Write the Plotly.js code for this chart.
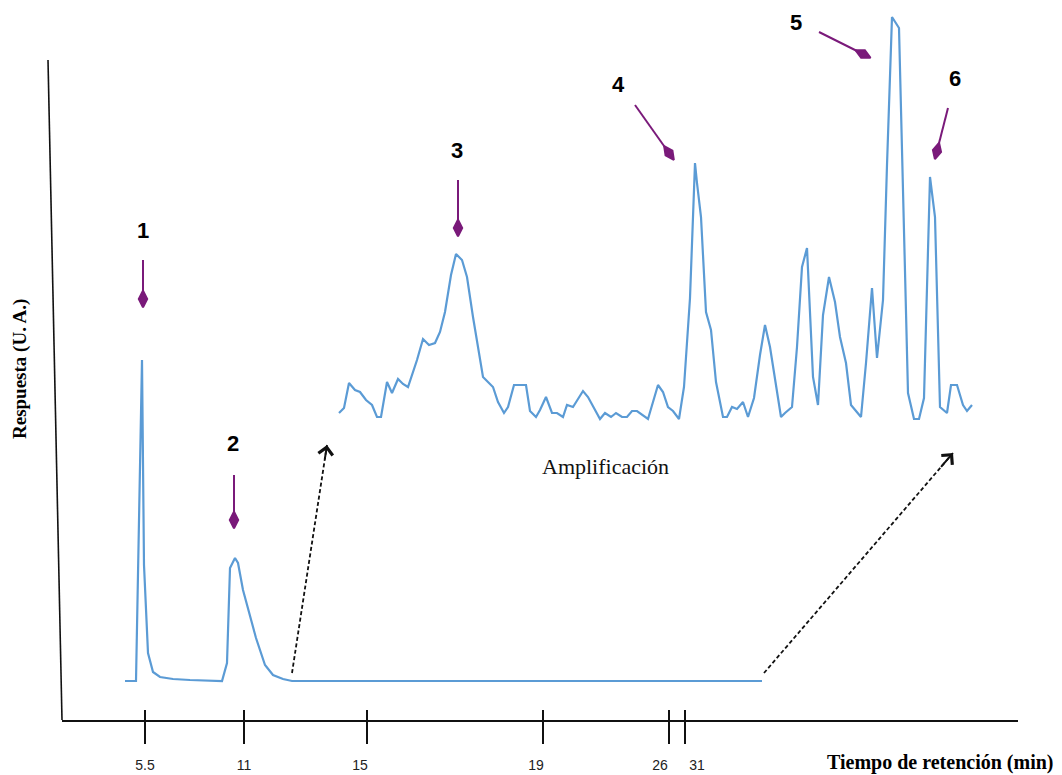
<!DOCTYPE html>
<html>
<head>
<meta charset="utf-8">
<script src="https://cdn.plot.ly/plotly-3.0.1.min.js"></script>
<style>html,body{margin:0;padding:0;background:#fff;}#chart{width:1062px;height:775px;}</style>
</head>
<body>
<div id="chart"></div>
<script>
// ---- Data (x: position along drawn time axis, y: response, arbitrary units) ----
const mainX = [125,136,142,144,148,153,160,173,190,222,227,230,235,238,243,250,256,265,273,283,292,762];
const mainY = [39,39,360,155,67,48,43,41,40,39,57,152,162,157,130,105,82,55,45,41,39,39];

const ampX = [339,344,349,355,360,366,372,377,381,387,392,398,403,408,417,423,429,435,440,445,451,456,462,467,473,483,493,498,504,508,514,526,530,536,540,546,552,557,563,567,573,583,588,600,605,611,616,622,627,632,637,643,648,658,663,668,673,679,684,690,695,697,701,706,711,716,723,727,732,737,743,748,754,760,765,770,775,781,785,792,797,802,807,813,818,823,829,835,840,846,851,857,861,866,872,877,883,887,892,899,902,908,914,919,924,930,935,940,947,951,957,963,967,972];
const ampY = [307,312,337,330,328,320,315,303,303,338,327,341,336,333,360,381,375,377,388,408,445,466,460,443,403,343,333,318,307,313,335,335,309,303,310,323,307,307,303,315,313,329,323,301,307,303,307,303,303,309,309,305,301,335,328,313,309,301,333,422,557,537,503,408,390,338,303,303,313,311,318,303,322,365,395,373,343,303,307,313,373,453,472,343,315,405,443,418,383,357,315,308,303,357,432,362,420,555,703,692,560,327,301,301,322,543,503,313,307,335,335,315,309,315];

const tickPos = [145,244,367,543,669,685];
const labelPos = [145,244,360,536,660,697];
const tickLabels = ['5.5','11','15','19','26','31'];

const peakNames = ['1','2','3','4','5','6'];
const peakLabelX = [143,233,457,618,796,955];
const peakLabelY = [490,277,570,636,698,642];
const pointerStartX = [143,234,458,635,819,948];
const pointerStartY = [460,245,540,615,688,612];
const pointerEndX = [143,234,458,669,863,937];
const pointerEndY = [421,200,492,567,666,569];

const zoomTailX = [292,764];
const zoomTailY = [47,47];
const zoomTipX = [327,953];
const zoomTipY = [275,267];

const blue = '#5b9bd5';
const purple = '#7a1a7a';

const traces = [];
traces.push({x: mainX, y: mainY, mode: 'lines', line: {color: blue, width: 2.2}, hoverinfo: 'skip', xaxis: 'x', yaxis: 'y'});
traces.push({x: ampX, y: ampY, mode: 'lines', line: {color: blue, width: 2.2}, hoverinfo: 'skip', xaxis: 'x', yaxis: 'y'});

for (let i = 0; i < peakNames.length; i++) {
  traces.push({
    x: [pointerStartX[i], pointerEndX[i]], y: [pointerStartY[i], pointerEndY[i]],
    mode: 'lines+markers', line: {color: purple, width: 2},
    marker: {symbol: 'diamond-tall', size: [0, 12], color: purple, opacity: 1, line: {color: purple, width: 2}, angleref: 'previous'},
    hoverinfo: 'skip', xaxis: 'x', yaxis: 'y'
  });
}
for (let i = 0; i < zoomTailX.length; i++) {
  traces.push({
    x: [zoomTailX[i], zoomTipX[i]], y: [zoomTailY[i], zoomTipY[i]],
    mode: 'lines', line: {color: '#111', width: 1.8, dash: '4px,2.5px'},
    hoverinfo: 'skip', xaxis: 'x', yaxis: 'y'
  });
}
// empty traces so overlay axes are drawn
traces.push({x: [], y: [], xaxis: 'x2', yaxis: 'y', mode: 'lines', hoverinfo: 'skip'});
traces.push({x: [], y: [], xaxis: 'x3', yaxis: 'y', mode: 'lines', hoverinfo: 'skip'});

const annotations = [];
for (let i = 0; i < peakNames.length; i++) {
  annotations.push({x: peakLabelX[i], y: peakLabelY[i], xref: 'x', yref: 'y', text: '<b>' + peakNames[i] + '</b>',
    showarrow: false, font: {family: 'Liberation Sans, Arial, sans-serif', size: 22, color: '#000'}, xanchor: 'center', yanchor: 'middle'});
}
for (let i = 0; i < zoomTailX.length; i++) {
  annotations.push({x: zoomTipX[i], y: zoomTipY[i], xref: 'x', yref: 'y', axref: 'x', ayref: 'y',
    ax: zoomTipX[i] - 0.07 * (zoomTipX[i] - zoomTailX[i]), ay: zoomTipY[i] - 0.07 * (zoomTipY[i] - zoomTailY[i]),
    text: '', showarrow: true, arrowhead: 4, arrowsize: 1.4, arrowwidth: 2, arrowcolor: '#111'});
}
annotations.push({x: 605, y: 254, xref: 'x', yref: 'y', text: 'Amplificación', showarrow: false, xanchor: 'center', yanchor: 'middle',
  font: {family: 'Liberation Serif, Times New Roman, serif', size: 22, color: '#111'}});
annotations.push({x: 20 / 1062, y: (775 - 369) / 775, xref: 'paper', yref: 'paper', text: '<b>Respuesta (U. A.)</b>', textangle: -90,
  xanchor: 'center', yanchor: 'middle',
  showarrow: false, font: {family: 'Liberation Serif, Times New Roman, serif', size: 19, color: '#000'}});
annotations.push({x: 940 / 1062, y: (775 - 762) / 775, xref: 'paper', yref: 'paper', text: '<b>Tiempo de retención (min)</b>',
  xanchor: 'center', yanchor: 'middle',
  showarrow: false, font: {family: 'Liberation Serif, Times New Roman, serif', size: 20, color: '#000'}});

const xDomain = [62 / 1062, 1018 / 1062];
const xRange = [62, 1018];
const layout = {
  width: 1062, height: 775,
  margin: {l: 0, r: 0, t: 0, b: 0, pad: 0},
  paper_bgcolor: '#fff', plot_bgcolor: 'rgba(0,0,0,0)',
  showlegend: false,
  xaxis: {domain: xDomain, range: xRange, showline: true, linecolor: '#111', linewidth: 1.6,
    ticks: 'outside', ticklen: 22, tickwidth: 1.6, tickcolor: '#111', tickmode: 'array', tickvals: tickPos,
    showticklabels: false, showgrid: false, zeroline: false, fixedrange: true, anchor: 'y'},
  xaxis2: {overlaying: 'x', anchor: 'y', range: xRange, ticks: 'inside', ticklen: 10, tickwidth: 1.6, tickcolor: '#111',
    tickmode: 'array', tickvals: tickPos, showticklabels: false, showline: false, showgrid: false, zeroline: false, fixedrange: true},
  xaxis3: {overlaying: 'x', anchor: 'y', range: xRange, ticks: '', tickmode: 'array', tickvals: labelPos, ticktext: tickLabels,
    ticklabelstandoff: 35, tickfont: {family: 'Liberation Sans, Arial, sans-serif', size: 14, color: '#222'},
    showline: false, showgrid: false, zeroline: false, fixedrange: true},
  yaxis: {domain: [55 / 775, 1], range: [0, 720], visible: false, fixedrange: true},
  shapes: [
    {type: 'line', xref: 'paper', yref: 'paper', x0: 48 / 1062, y0: (775 - 60) / 775, x1: 62 / 1062, y1: (775 - 720) / 775,
      line: {color: '#111', width: 1.6}}
  ],
  annotations: annotations
};

Plotly.newPlot('chart', traces, layout, {staticPlot: true, displayModeBar: false});
</script>
</body>
</html>
